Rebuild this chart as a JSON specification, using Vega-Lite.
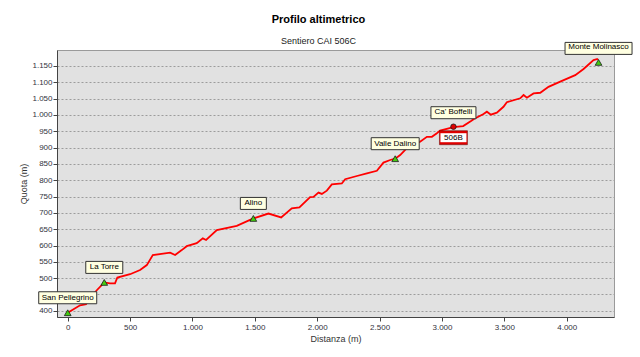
{
  "$schema": "https://vega.github.io/schema/vega-lite/v6.json",
  "width": 557,
  "height": 267,
  "autosize": "none",
  "padding": {"left": 57, "top": 50, "right": 26, "bottom": 40},
  "background": "white",
  "title": {
    "text": "Profilo altimetrico",
    "subtitle": "Sentiero CAI 506C",
    "anchor": "middle",
    "frame": "group",
    "dx": -17,
    "offset": -4,
    "font": "Liberation Sans",
    "fontSize": 11,
    "fontWeight": "bold",
    "color": "#000000",
    "subtitleFont": "Liberation Sans",
    "subtitleFontSize": 9,
    "subtitleColor": "#222222",
    "subtitlePadding": 12
  },
  "config": {
    "font": "Liberation Sans",
    "view": {"fill": "#E1E1E1", "stroke": "#9a9a9a", "strokeWidth": 1},
    "axis": {
      "labelFont": "Liberation Sans",
      "labelFontSize": 8,
      "labelColor": "#333340",
      "titleFont": "Liberation Sans",
      "titleFontSize": 9,
      "titleFontWeight": "normal",
      "titleColor": "#333333",
      "tickColor": "#444444",
      "tickSize": 4,
      "domainColor": "#444444"
    }
  },
  "datasets": {
    "profile": [
      {"d": 0, "q": 394}, {"d": 99, "q": 417}, {"d": 147, "q": 420}, {"d": 179, "q": 439},
      {"d": 233, "q": 463}, {"d": 293, "q": 487}, {"d": 339, "q": 484}, {"d": 379, "q": 484},
      {"d": 398, "q": 502}, {"d": 500, "q": 512}, {"d": 580, "q": 525}, {"d": 634, "q": 540},
      {"d": 682, "q": 571}, {"d": 821, "q": 578}, {"d": 861, "q": 571}, {"d": 914, "q": 586},
      {"d": 954, "q": 598}, {"d": 1034, "q": 607}, {"d": 1083, "q": 622}, {"d": 1109, "q": 617},
      {"d": 1195, "q": 647}, {"d": 1355, "q": 660}, {"d": 1488, "q": 683}, {"d": 1609, "q": 698},
      {"d": 1711, "q": 686}, {"d": 1796, "q": 714}, {"d": 1857, "q": 717}, {"d": 1943, "q": 748},
      {"d": 1970, "q": 749}, {"d": 2010, "q": 762}, {"d": 2037, "q": 758}, {"d": 2077, "q": 768},
      {"d": 2117, "q": 787}, {"d": 2197, "q": 790}, {"d": 2224, "q": 803}, {"d": 2318, "q": 813},
      {"d": 2398, "q": 821}, {"d": 2478, "q": 829}, {"d": 2531, "q": 854}, {"d": 2585, "q": 862},
      {"d": 2625, "q": 866}, {"d": 2665, "q": 877}, {"d": 2705, "q": 893}, {"d": 2745, "q": 906},
      {"d": 2825, "q": 918}, {"d": 2879, "q": 933}, {"d": 2919, "q": 933}, {"d": 2959, "q": 944},
      {"d": 2985, "q": 952}, {"d": 3092, "q": 963}, {"d": 3170, "q": 966}, {"d": 3236, "q": 982},
      {"d": 3253, "q": 987}, {"d": 3333, "q": 1003}, {"d": 3360, "q": 1010}, {"d": 3392, "q": 1001},
      {"d": 3440, "q": 1007}, {"d": 3493, "q": 1025}, {"d": 3520, "q": 1039}, {"d": 3627, "q": 1051},
      {"d": 3654, "q": 1061}, {"d": 3681, "q": 1053}, {"d": 3734, "q": 1066}, {"d": 3788, "q": 1068},
      {"d": 3854, "q": 1086}, {"d": 3948, "q": 1102}, {"d": 4068, "q": 1122}, {"d": 4135, "q": 1141},
      {"d": 4215, "q": 1168}, {"d": 4242, "q": 1171}, {"d": 4252, "q": 1171}
    ],
    "points": [
      {"d": 0, "q": 394, "name": "San Pellegrino", "kind": "peak"},
      {"d": 293, "q": 487, "name": "La Torre", "kind": "peak"},
      {"d": 1488, "q": 683, "name": "Alino", "kind": "peak"},
      {"d": 2625, "q": 866, "name": "Valle Dalino", "kind": "peak"},
      {"d": 3092, "q": 964, "name": "Ca' Boffelli", "kind": "junction", "sign": "506B"},
      {"d": 4255, "q": 1161, "name": "Monte Molinasco", "kind": "peak"}
    ]
  },
  "encoding": {
    "x": {
      "field": "d", "type": "quantitative",
      "scale": {"domain": [-86, 4379], "nice": false, "zero": false},
      "axis": {
        "title": "Distanza (m)",
        "values": [0, 500, 1000, 1500, 2000, 2500, 3000, 3500, 4000],
        "labelExpr": "replace(format(datum.value, ','), ',', '.')",
        "grid": false,
        "labelPadding": 2,
        "titlePadding": 3
      }
    },
    "y": {
      "field": "q", "type": "quantitative",
      "scale": {"domain": [381, 1199], "nice": false, "zero": false},
      "axis": {
        "title": "Quota (m)",
        "values": [400, 450, 500, 550, 600, 650, 700, 750, 800, 850, 900, 950, 1000, 1050, 1100, 1150],
        "labelExpr": "replace(format(datum.value, ','), ',', '.')",
        "grid": true,
        "gridColor": "#9c9c9c",
        "gridDash": [2, 2],
        "gridWidth": 1,
        "labelPadding": 1,
        "titlePadding": 3
      }
    }
  },
  "layer": [
    {
      "data": {"name": "profile"},
      "mark": {"type": "line", "color": "#FF0000", "strokeWidth": 1.8, "clip": true}
    },
    {
      "data": {"name": "points"},
      "transform": [{"filter": "datum.kind == 'peak'"}],
      "mark": {"type": "point", "shape": "triangle-up", "filled": true, "size": 45, "fill": "#44CC11", "stroke": "#1a1a1a", "strokeWidth": 0.8, "opacity": 1}
    },
    {
      "data": {"name": "points"},
      "transform": [{"filter": "datum.kind == 'junction'"}],
      "mark": {"type": "point", "shape": "circle", "filled": true, "size": 30, "fill": "#E00000", "stroke": "#1a1a1a", "strokeWidth": 0.8, "opacity": 1}
    },
    {
      "data": {"name": "points"},
      "transform": [{"filter": "datum.name == 'San Pellegrino'"}],
      "mark": {"type": "rect", "width": 58, "height": 12, "yOffset": -15, "fill": "#FFFFE1", "stroke": "#333333", "strokeWidth": 1}
    },
    {
      "data": {"name": "points"},
      "transform": [{"filter": "datum.name == 'La Torre'"}],
      "mark": {"type": "rect", "width": 37, "height": 12, "yOffset": -15, "fill": "#FFFFE1", "stroke": "#333333", "strokeWidth": 1}
    },
    {
      "data": {"name": "points"},
      "transform": [{"filter": "datum.name == 'Alino'"}],
      "mark": {"type": "rect", "width": 26, "height": 12, "yOffset": -15, "fill": "#FFFFE1", "stroke": "#333333", "strokeWidth": 1}
    },
    {
      "data": {"name": "points"},
      "transform": [{"filter": "datum.name == 'Valle Dalino'"}],
      "mark": {"type": "rect", "width": 48, "height": 12, "yOffset": -15, "fill": "#FFFFE1", "stroke": "#333333", "strokeWidth": 1}
    },
    {
      "data": {"name": "points"},
      "transform": [{"filter": "datum.name == \"Ca' Boffelli\""}],
      "mark": {"type": "rect", "width": 45, "height": 12, "yOffset": -14, "fill": "#FFFFE1", "stroke": "#333333", "strokeWidth": 1}
    },
    {
      "data": {"name": "points"},
      "transform": [{"filter": "datum.name == 'Monte Molinasco'"}],
      "mark": {"type": "rect", "width": 67, "height": 12, "yOffset": -14, "fill": "#FFFFE1", "stroke": "#333333", "strokeWidth": 1}
    },
    {
      "data": {"name": "points"},
      "mark": {"type": "text", "font": "Liberation Sans", "fontSize": 8, "color": "#000000", "align": "center", "baseline": "middle", "dy": -15},
      "encoding": {"text": {"field": "name"}}
    },
    {
      "data": {"name": "points"},
      "transform": [{"filter": "isValid(datum.sign)"}],
      "mark": {"type": "rect", "width": 28, "height": 14, "yOffset": 11, "fill": "#E00000", "stroke": "#600000", "strokeWidth": 0.5}
    },
    {
      "data": {"name": "points"},
      "transform": [{"filter": "isValid(datum.sign)"}],
      "mark": {"type": "rect", "width": 26, "height": 9, "yOffset": 11, "fill": "#FFFFFF"}
    },
    {
      "data": {"name": "points"},
      "transform": [{"filter": "isValid(datum.sign)"}],
      "mark": {"type": "text", "font": "Liberation Sans", "fontSize": 8, "color": "#000000", "align": "center", "baseline": "middle", "dy": 11},
      "encoding": {"text": {"field": "sign"}}
    }
  ]
}
